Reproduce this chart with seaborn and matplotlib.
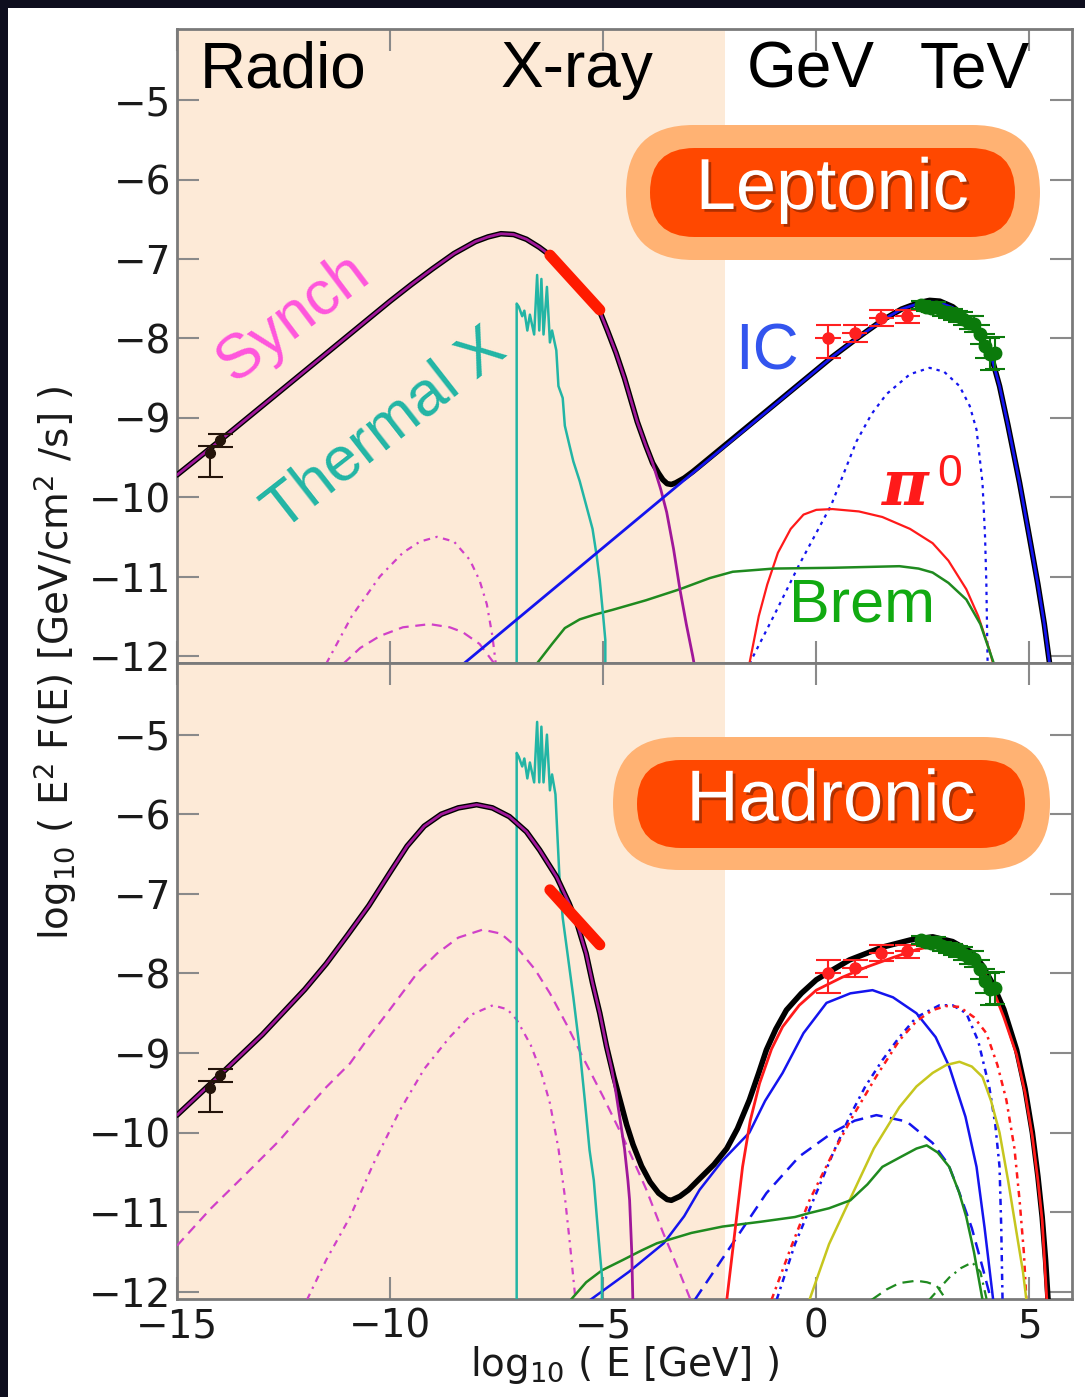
import numpy as np
import pandas as pd
import matplotlib
matplotlib.use("Agg")
import matplotlib.pyplot as plt
import seaborn as sns
from matplotlib.patches import FancyBboxPatch, Rectangle
from matplotlib.transforms import IdentityTransform
import matplotlib.patheffects as pe

# ---------------- data ----------------
x_ticks = [-15, -10, -5, 0, 5]
y_ticks = [-12, -11, -10, -9, -8, -7, -6, -5]
band_labels = ["Radio", "X-ray", "GeV", "TeV"]
band_x = [-12.51, -5.62, -0.13, 3.71]

# ---- Leptonic (top) ----
top_total_x = [-15, -14, -13, -12, -11, -10.5, -10, -9.5, -9, -8.5, -8.0, -7.7, -7.4, -7.1, -6.8, -6.5,
               -6.25, -5.9, -5.6, -5.3, -5.08, -4.9, -4.7, -4.5, -4.38, -4.2, -4.0, -3.84, -3.7, -3.6,
               -3.5, -3.4, -3.3, -3.1, -2.9, -2.74, 0.38, 1.0, 1.55, 2.0, 2.4, 2.66, 2.9, 3.2, 3.5,
               3.8, 4.13, 4.3, 4.5, 4.77, 5.0, 5.2, 5.35, 5.5]
top_total_y = [-9.72, -9.29, -8.85, -8.41, -7.97, -7.75, -7.53, -7.32, -7.12, -6.93, -6.78, -6.72, -6.68,
               -6.69, -6.75, -6.85, -6.95, -7.14, -7.33, -7.52, -7.66, -7.9, -8.18, -8.5, -8.72, -9.05,
               -9.35, -9.57, -9.7, -9.78, -9.83, -9.84, -9.82, -9.76, -9.68, -9.61, -8.23, -7.98, -7.77,
               -7.63, -7.55, -7.52, -7.53, -7.6, -7.73, -7.95, -8.27, -8.6, -9.1, -9.82, -10.5, -11.1,
               -11.6, -12.2]
top_synch_x = [-15, -14, -13, -12, -11, -10.5, -10, -9.5, -9, -8.5, -8.0, -7.7, -7.4, -7.1, -6.8, -6.5,
               -6.25, -5.9, -5.6, -5.3, -5.08, -4.9, -4.7, -4.5, -4.38, -4.2, -4.0, -3.84, -3.65, -3.51,
               -3.35, -3.2, -3.05, -2.9, -2.8]
top_synch_y = [-9.72, -9.29, -8.85, -8.41, -7.97, -7.75, -7.53, -7.32, -7.12, -6.93, -6.78, -6.72, -6.68,
               -6.69, -6.75, -6.85, -6.95, -7.14, -7.33, -7.52, -7.66, -7.9, -8.18, -8.5, -8.72, -9.05,
               -9.35, -9.57, -9.9, -10.19, -10.65, -11.16, -11.6, -12.0, -12.3]
top_synch_dash_x = [-11.1, -10.7, -10.24, -9.7, -9.07, -8.6, -8.3, -7.9, -7.55]
top_synch_dash_y = [-12.1, -11.9, -11.75, -11.64, -11.6, -11.64, -11.7, -11.85, -12.1]
top_synch_dd_x = [-11.5, -10.9, -10.24, -9.7, -9.3, -8.9, -8.5, -8.13, -7.9, -7.73, -7.6, -7.52]
top_synch_dd_y = [-12.1, -11.5, -11.0, -10.7, -10.56, -10.5, -10.56, -10.79, -11.05, -11.35, -11.75, -12.1]
top_ic_x = [-8.5, 0.38, 1.0, 1.55, 2.0, 2.4, 2.66, 2.9, 3.2, 3.5, 3.8, 4.13, 4.3, 4.5, 4.77, 5.0, 5.2,
            5.35, 5.5]
top_ic_y = [-12.2, -8.23, -7.98, -7.77, -7.63, -7.56, -7.54, -7.55, -7.61, -7.74, -7.96, -8.27, -8.6,
            -9.1, -9.82, -10.5, -11.1, -11.6, -12.2]
top_ic_dot_x = [-1.57, -1.0, -0.4, 0.35, 0.94, 1.3, 1.65, 2.2, 2.66, 3.0, 3.36, 3.6, 3.76, 3.9, 3.96,
                3.99, 4.02]
top_ic_dot_y = [-12.1, -11.5, -10.85, -10.1, -9.3, -8.95, -8.7, -8.45, -8.37, -8.42, -8.6, -8.85, -9.15,
                -9.82, -10.5, -11.08, -12.1]
top_pi0_x = [-1.57, -1.35, -1.15, -0.9, -0.6, -0.3, 0.0, 0.38, 1.0, 1.55, 2.2, 2.73, 3.1, 3.52, 3.8,
             4.06, 4.15]
top_pi0_y = [-12.1, -11.5, -11.1, -10.7, -10.4, -10.22, -10.16, -10.15, -10.18, -10.25, -10.4, -10.58,
             -10.8, -11.16, -11.5, -11.92, -12.1]
top_brem_x = [-6.56, -6.2, -5.9, -5.55, -5.2, -4.78, -4.0, -3.2, -2.5, -1.96, -1.0, 0.38, 1.95, 2.4,
              2.73, 3.1, 3.52, 3.85, 4.13, 4.2]
top_brem_y = [-12.1, -11.85, -11.65, -11.54, -11.48, -11.42, -11.3, -11.16, -11.02, -10.94, -10.9,
              -10.89, -10.87, -10.9, -10.95, -11.08, -11.29, -11.6, -12.04, -12.15]
top_thermal_x = [-7.03, -7.03, -6.98, -6.9, -6.85, -6.78, -6.72, -6.62, -6.55, -6.5, -6.45, -6.4,
                 -6.32, -6.25, -6.2, -6.1, -6.05, -5.95, -5.9, -5.79, -5.7, -5.55, -5.4, -5.25,
                 -5.15, -5.08, -5.0, -4.95, -4.95]
top_thermal_y = [-12.2, -7.56, -7.6, -7.72, -7.65, -7.9, -7.7, -7.95, -7.2, -7.9, -7.25, -7.95,
                 -7.35, -8.05, -7.9, -8.15, -8.6, -8.75, -9.1, -9.35, -9.55, -9.8, -10.1, -10.4,
                 -10.75, -11.05, -11.5, -11.8, -12.2]

# ---- Hadronic (bottom) ----
bot_total_x = [-15, -14, -13, -12, -11.5, -11, -10.5, -10, -9.6, -9.2, -8.8, -8.4, -7.97, -7.6, -7.2,
               -6.8, -6.49, -6.09, -5.8, -5.62, -5.4, -5.25, -5.08, -4.92, -4.75, -4.6, -4.45, -4.3,
               -4.1, -3.9, -3.7, -3.5, -3.4, -3.2, -3.0, -2.74, -2.4, -2.1, -1.85, -1.57, -1.35,
               -1.17, -0.95, -0.7, -0.35, 0.0, 0.4, 0.78, 1.55, 2.2, 2.73, 3.2, 3.66, 3.9, 4.13,
               4.4, 4.7, 4.9, 5.07, 5.2, 5.3, 5.38, 5.45]
bot_total_y = [-9.78, -9.28, -8.77, -8.2, -7.88, -7.52, -7.15, -6.73, -6.4, -6.15, -6.0, -5.92, -5.88,
               -5.92, -6.03, -6.22, -6.45, -6.79, -7.12, -7.36, -7.75, -8.12, -8.5, -8.92, -9.3, -9.6,
               -9.9, -10.15, -10.42, -10.62, -10.76, -10.84, -10.85, -10.8, -10.72, -10.58, -10.4,
               -10.2, -9.95, -9.59, -9.25, -8.96, -8.7, -8.46, -8.25, -8.08, -7.95, -7.83, -7.67,
               -7.58, -7.54, -7.6, -7.74, -7.9, -8.12, -8.45, -8.96, -9.45, -10.0, -10.55, -11.06,
               -11.6, -12.2]
bot_synch_x = [-15, -14, -13, -12, -11.5, -11, -10.5, -10, -9.6, -9.2, -8.8, -8.4, -7.97, -7.6, -7.2,
               -6.8, -6.49, -6.09, -5.8, -5.62, -5.4, -5.25, -5.08, -4.92, -4.8, -4.7, -4.6, -4.5,
               -4.42, -4.38, -4.33, -4.3]
bot_synch_y = [-9.78, -9.28, -8.77, -8.2, -7.88, -7.52, -7.15, -6.73, -6.4, -6.15, -6.0, -5.92, -5.88,
               -5.92, -6.03, -6.22, -6.45, -6.79, -7.12, -7.36, -7.75, -8.12, -8.5, -8.92, -9.2, -9.5,
               -9.85, -10.2, -10.6, -10.85, -11.5, -12.2]
bot_synch_dash_x = [-15, -14.2, -13.29, -12.6, -12, -11.5, -10.94, -10.5, -10, -9.37, -8.9, -8.4,
                    -7.83, -7.4, -7.03, -6.6, -6.25, -5.85, -5.48, -5.0, -4.5, -4.0, -3.6, -3.25,
                    -2.95]
bot_synch_dash_y = [-11.42, -10.95, -10.47, -10.1, -9.73, -9.43, -9.13, -8.8, -8.45, -8.0, -7.75,
                    -7.55, -7.45, -7.5, -7.67, -7.95, -8.25, -8.65, -9.05, -9.55, -10.1, -10.7,
                    -11.25, -11.7, -12.1]
bot_synch_dd_x = [-11.95, -11.5, -10.94, -10.4, -9.77, -9.2, -8.6, -8.1, -7.59, -7.25, -7.03, -6.7,
                  -6.45, -6.25, -6.05, -5.9, -5.78, -5.65]
bot_synch_dd_y = [-12.1, -11.6, -11.06, -10.4, -9.72, -9.2, -8.8, -8.52, -8.4, -8.45, -8.58, -8.9,
                  -9.25, -9.63, -10.2, -10.8, -11.4, -12.1]
bot_thermal_x = [-7.03, -7.03, -6.98, -6.9, -6.85, -6.78, -6.72, -6.62, -6.55, -6.5, -6.45, -6.4,
                 -6.32, -6.25, -6.2, -6.12, -6.08, -6.02, -5.95, -5.85, -5.7, -5.55, -5.43, -5.32,
                 -5.22, -5.15, -5.08, -5.03, -5.03]
bot_thermal_y = [-12.2, -5.23, -5.28, -5.4, -5.3, -5.55, -5.35, -5.6, -4.84, -5.6, -4.9, -5.6,
                 -5.0, -5.7, -5.5, -5.75, -6.2, -6.86, -7.3, -7.7, -8.3, -8.96, -9.6, -10.22,
                 -10.6, -11.06, -11.5, -11.8, -12.2]
bot_ic_x = [-5.3, -4.4, -3.58, -3.1, -2.74, -2.2, -1.57, -1.2, -0.79, -0.3, 0.24, 0.8, 1.32, 1.8,
            2.35, 2.8, 3.12, 3.5, 3.76, 3.95, 4.15]
bot_ic_y = [-12.1, -11.75, -11.39, -11.05, -10.72, -10.35, -10.0, -9.6, -9.25, -8.75, -8.37, -8.25,
            -8.21, -8.3, -8.5, -8.8, -9.17, -9.8, -10.43, -11.2, -12.1]
bot_ic_dash_x = [-2.85, -1.96, -1.17, -0.4, 0.38, 0.9, 1.41, 2.12, 2.73, 3.1, 3.36, 3.65, 3.9, 4.1]
bot_ic_dash_y = [-12.1, -11.39, -10.76, -10.3, -10.0, -9.85, -9.78, -9.86, -10.13, -10.4, -10.76,
                 -11.2, -11.69, -12.1]
bot_ic_dot_x = [-0.93, -0.5, 0.0, 0.4, 0.78, 1.15, 1.55, 1.95, 2.35, 2.89, 3.2, 3.52, 3.8, 4.06, 4.2,
                4.3, 4.34, 4.37]
bot_ic_dot_y = [-12.1, -11.4, -10.76, -10.25, -9.8, -9.42, -9.09, -8.8, -8.55, -8.4, -8.4, -8.5,
                -8.85, -9.43, -9.9, -10.43, -11.2, -12.1]
bot_pi0_x = [-2.1, -1.9, -1.73, -1.55, -1.33, -1.05, -0.79, -0.4, 0.0, 0.6, 1.18, 1.8, 2.35, 2.9, 3.3,
             3.66, 3.9, 4.13, 4.4, 4.7, 4.9, 5.07, 5.2, 5.3, 5.42]
bot_pi0_y = [-12.1, -11.2, -10.43, -9.85, -9.38, -8.95, -8.67, -8.4, -8.21, -8.05, -7.92, -7.8, -7.7,
             -7.64, -7.7, -7.8, -7.95, -8.18, -8.55, -9.02, -9.5, -10.05, -10.6, -11.1, -12.2]
bot_pi0_dot_x = [-1.05, -0.6, -0.16, 0.35, 0.85, 1.4, 1.95, 2.35, 2.73, 3.05, 3.36, 3.7, 3.99, 4.25,
                 4.46, 4.65, 4.77, 4.87, 4.93]
bot_pi0_dot_y = [-12.1, -11.45, -10.85, -10.3, -9.8, -9.3, -8.84, -8.6, -8.46, -8.41, -8.42, -8.55,
                 -8.75, -9.15, -9.59, -10.2, -10.85, -11.5, -12.1]
bot_yellow_x = [-0.16, 0.3, 0.78, 1.35, 1.95, 2.35, 2.73, 3.05, 3.36, 3.65, 3.9, 4.1, 4.3, 4.5, 4.7,
                4.85, 4.93]
bot_yellow_y = [-12.1, -11.4, -10.85, -10.2, -9.68, -9.42, -9.25, -9.15, -9.11, -9.17, -9.3, -9.6,
                -10.0, -10.6, -11.26, -11.75, -12.1]
bot_brem_x = [-5.76, -5.4, -5.03, -4.54, -4.1, -3.74, -2.93, -2.2, -1.31, -0.5, -0.16, 0.3, 0.8, 1.2,
              1.55, 2.0, 2.35, 2.59, 2.85, 3.12, 3.35, 3.52, 3.7, 3.9]
bot_brem_y = [-12.1, -11.88, -11.73, -11.6, -11.48, -11.39, -11.26, -11.18, -11.12, -11.06, -11.01,
              -10.95, -10.85, -10.65, -10.43, -10.3, -10.2, -10.16, -10.25, -10.43, -10.75, -11.06,
              -11.5, -12.1]
bot_brem_dash_x = [1.3, 1.65, 1.95, 2.35, 2.6, 2.82, 3.05]
bot_brem_dash_y = [-12.1, -11.97, -11.89, -11.86, -11.88, -11.92, -12.1]
bot_brem_dd_x = [2.65, 2.9, 3.12, 3.4, 3.66, 3.85, 4.0]
bot_brem_dd_y = [-12.1, -11.95, -11.82, -11.7, -11.63, -11.75, -12.1]

# ---- measured points (same in both panels) ----
radio_x = [-14.23, -13.99]
radio_y = [-9.44, -9.28]
radio_err_lo = [0.30, 0.09]
radio_err_hi = [0.09, 0.08]
xray_bar_x = [-6.25, -5.08]
xray_bar_y = [-6.95, -7.64]
fermi_x = [0.27, 0.9, 1.53, 2.14]
fermi_y = [-7.99, -7.93, -7.74, -7.72]
fermi_err_lo = [0.26, 0.12, 0.10, 0.08]
fermi_err_hi = [0.16, 0.10, 0.10, 0.08]
fermi_xerr = [0.3, 0.3, 0.3, 0.3]
hess_x = [2.45, 2.58, 2.7, 2.82, 2.95, 3.08, 3.2, 3.33, 3.45, 3.58, 3.7, 3.83, 3.95, 4.08, 4.2]
hess_y = [-7.58, -7.6, -7.62, -7.6, -7.66, -7.68, -7.7, -7.72, -7.75, -7.8, -7.82, -7.95, -8.1,
          -8.2, -8.18]
hess_err = [0.05, 0.05, 0.05, 0.06, 0.06, 0.06, 0.07, 0.07, 0.08, 0.08, 0.1, 0.12, 0.15, 0.2, 0.2]
hess_xerr = [0.12] * 15

# ---------------- styling ----------------
W, H = 1085, 1397
sns.set_style("ticks")
plt.rcParams['font.family'] = ['DejaVu Sans']
plt.rcParams['mathtext.fontset'] = 'dejavusans'

C_SYN = '#a0189a'
C_SYN_L = '#d040c8'
C_TH = '#22b5a5'
C_BLUE = '#1414ee'
C_RED = '#ff1a1a'
C_GREEN = '#1f8a1f'
C_YEL = '#c6c61e'
SHADE = '#fdead7'
LABEL_FONT = ['Liberation Sans', 'DejaVu Sans']

fig = plt.figure(figsize=(W / 100, H / 100), dpi=100)
fig.patch.set_facecolor('white')


def fx(px):
    return px / W


def fy(py):
    return 1 - py / H


ax_top = fig.add_axes([fx(177), fy(663), (1072 - 177) / W, (663 - 29) / H])
ax_bot = fig.add_axes([fx(177), fy(1299), (1072 - 177) / W, (1299 - 663) / H])


def line(ax, x, y, color, lw=1.6, ls='-', z=4):
    sns.lineplot(x=x, y=y, ax=ax, color=color, linewidth=lw, linestyle=ls, sort=False,
                 estimator=None, zorder=z, legend=False)


def data_points(ax):
    ax.errorbar(radio_x, radio_y, yerr=[radio_err_lo, radio_err_hi], fmt='o', color='#24140a',
                ms=7, capsize=9, elinewidth=1.5, capthick=1.5, zorder=8)
    line(ax, xray_bar_x, xray_bar_y, '#ff1a00', lw=8, z=8)
    ax.errorbar(fermi_x, fermi_y, xerr=fermi_xerr, fmt='none', ecolor='#ff2020', elinewidth=1.5,
                capsize=0, zorder=8)
    ax.errorbar(fermi_x, fermi_y, yerr=[fermi_err_lo, fermi_err_hi], fmt='o', color='#ff2020',
                ms=8, capsize=9, elinewidth=1.5, capthick=1.5, zorder=8)
    ax.errorbar(hess_x, hess_y, xerr=hess_xerr, fmt='none', ecolor='#0b7a0b', elinewidth=1.5,
                capsize=0, zorder=9)
    ax.errorbar(hess_x, hess_y, yerr=hess_err, fmt='o', color='#0b7a0b', ms=9,
                capsize=7, elinewidth=1.5, capthick=1.5, zorder=9)


for ax in (ax_top, ax_bot):
    ax.set_xlim(-15, 6.0)
    ax.set_ylim(-12.09, -4.1)
    ax.axvspan(-15, -2.15, color=SHADE, zorder=0, lw=0)
    ax.set_xticks(x_ticks)
    ax.set_yticks(y_ticks)
    ax.tick_params(direction='in', length=16, width=1.5, color='#8a8a8a', labelcolor='#1a1a1a',
                   labelsize=28, top=True, right=True, pad=4)
    ax.tick_params(axis='x', pad=6)
    for s in ax.spines.values():
        s.set_color('#7a7a7a')
        s.set_linewidth(2)
    ax.set_xlabel('')
    ax.set_ylabel('')

ax_top.tick_params(labelbottom=False)

# ---- top panel curves ----
line(ax_top, top_total_x, top_total_y, 'black', lw=4.0, z=5)
line(ax_top, top_synch_x, top_synch_y, C_SYN, lw=2.0, z=6)
line(ax_top, top_ic_x, top_ic_y, C_BLUE, lw=2.0, z=6)
line(ax_top, top_synch_dash_x, top_synch_dash_y, C_SYN_L, lw=1.6, ls=(0, (4.5, 3)))
line(ax_top, top_synch_dd_x, top_synch_dd_y, C_SYN_L, lw=1.6, ls=(0, (3, 2.5, 1, 2.5)))
line(ax_top, top_ic_dot_x, top_ic_dot_y, C_BLUE, lw=1.6, ls=(0, (1.5, 2.2)))
line(ax_top, top_pi0_x, top_pi0_y, C_RED, lw=1.6)
line(ax_top, top_brem_x, top_brem_y, C_GREEN, lw=1.8)
line(ax_top, top_thermal_x, top_thermal_y, C_TH, lw=1.8)
data_points(ax_top)

# ---- bottom panel curves ----
line(ax_bot, bot_total_x, bot_total_y, 'black', lw=4.0, z=5)
line(ax_bot, bot_synch_x, bot_synch_y, C_SYN, lw=2.0, z=6)
line(ax_bot, bot_pi0_x, bot_pi0_y, C_RED, lw=2.0, z=6)
line(ax_bot, bot_synch_dash_x, bot_synch_dash_y, C_SYN_L, lw=1.6, ls=(0, (4.5, 3)))
line(ax_bot, bot_synch_dd_x, bot_synch_dd_y, C_SYN_L, lw=1.6, ls=(0, (3, 2.5, 1, 2.5)))
line(ax_bot, bot_ic_x, bot_ic_y, C_BLUE, lw=1.8)
line(ax_bot, bot_ic_dash_x, bot_ic_dash_y, C_BLUE, lw=1.8, ls=(0, (5, 3)))
line(ax_bot, bot_ic_dot_x, bot_ic_dot_y, C_BLUE, lw=1.8, ls=(0, (2.5, 2, 1, 2)))
line(ax_bot, bot_pi0_dot_x, bot_pi0_dot_y, C_RED, lw=1.8, ls=(0, (2.5, 2, 1, 2)))
line(ax_bot, bot_yellow_x, bot_yellow_y, C_YEL, lw=1.8)
line(ax_bot, bot_brem_x, bot_brem_y, C_GREEN, lw=1.8)
line(ax_bot, bot_brem_dash_x, bot_brem_dash_y, C_GREEN, lw=1.6, ls=(0, (5, 3)))
line(ax_bot, bot_brem_dd_x, bot_brem_dd_y, C_GREEN, lw=1.6, ls=(0, (4, 2.5, 1, 2.5)))
line(ax_bot, bot_thermal_x, bot_thermal_y, C_TH, lw=1.8)
data_points(ax_bot)

# ---- band labels ----
for lab, xb in zip(band_labels, band_x):
    ax_top.text(xb, -4.62, lab, ha='center', va='center', fontsize=46, family=LABEL_FONT,
                color='black', zorder=10)

# ---- curve labels ----
fig.text(fx(293), fy(318), 'Synch', rotation=37, ha='center', va='center', fontsize=45,
         family=LABEL_FONT, color='#ff55dd')
fig.text(fx(385), fy(430), 'Thermal X', rotation=38, ha='center', va='center', fontsize=45,
         family=LABEL_FONT, color=C_TH)
fig.text(fx(767), fy(352), 'IC', ha='center', va='center', fontsize=46, family=LABEL_FONT,
         color='#3355ee')
fig.text(fx(905), fy(488), 'π', ha='center', va='center', fontsize=46, family=['DejaVu Serif'],
         style='italic', weight='bold', color=C_RED)
fig.text(fx(950), fy(474), '0', ha='center', va='center', fontsize=32, family=LABEL_FONT,
         color=C_RED)
fig.text(fx(862), fy(606), 'Brem', ha='center', va='center', fontsize=44, family=LABEL_FONT,
         color='#11aa11')


# ---- model badges ----
def badge(x0, y0, x1, y1, xi0, yi0, xi1, yi1, text):
    ho = y1 - y0
    outer = FancyBboxPatch((x0, H - y1), x1 - x0, ho, boxstyle=f"round,pad=0,rounding_size={ho/2}",
                           transform=IdentityTransform(), facecolor='#ffb273', edgecolor='none',
                           zorder=20)
    hi = yi1 - yi0
    inner = FancyBboxPatch((xi0, H - yi1), xi1 - xi0, hi, boxstyle=f"round,pad=0,rounding_size={hi/2}",
                           transform=IdentityTransform(), facecolor='#ff4800', edgecolor='none',
                           zorder=21)
    fig.add_artist(outer)
    fig.add_artist(inner)
    t = fig.text(fx((xi0 + xi1) / 2), fy((yi0 + yi1) / 2 - 2), text, ha='center', va='center',
                 fontsize=52, family=LABEL_FONT, color='white', zorder=22)
    t.set_path_effects([pe.withSimplePatchShadow(offset=(2, -2), shadow_rgbFace='#7a2000', alpha=0.6)])


badge(626, 125, 1040, 260, 650, 148, 1015, 237, 'Leptonic')
badge(613, 737, 1050, 870, 637, 760, 1025, 848, 'Hadronic')

# ---- axis labels ----
fig.text(fx(55), fy(663), r'log$_{10}$ ( E$^{2}$ F(E) [GeV/cm$^{2}$ /s] )', rotation=90,
         ha='center', va='center', fontsize=28, color='#1a1a1a')
fig.text(fx(625), fy(1365), r'log$_{10}$ ( E [GeV] )', ha='center', va='center', fontsize=28,
         color='#1a1a1a')

# ---- dark slide frame ----
fig.add_artist(Rectangle((0, 0), fx(8), 1, transform=fig.transFigure, facecolor='#0e0e1e',
                         edgecolor='none', zorder=30))
fig.add_artist(Rectangle((0, fy(8)), 1, 8 / H, transform=fig.transFigure, facecolor='#0e0e1e',
                         edgecolor='none', zorder=30))

fig.savefig('out.png', dpi=100)
